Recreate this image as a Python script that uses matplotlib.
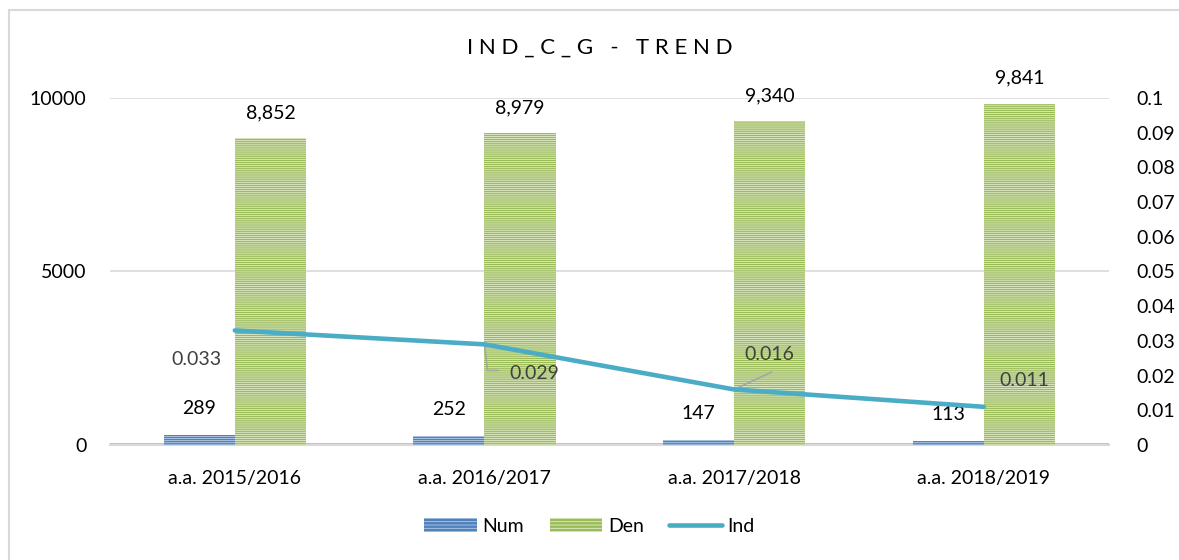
import numpy as np
import matplotlib.pyplot as plt
from matplotlib.patches import Rectangle, Patch
from matplotlib.lines import Line2D

plt.rcParams['font.family'] = ['Lato', 'DejaVu Sans']
plt.rcParams['hatch.linewidth'] = 0.6

categories = ["a.a. 2015/2016", "a.a. 2016/2017", "a.a. 2017/2018", "a.a. 2018/2019"]
num = [289, 252, 147, 113]
den = [8852, 8979, 9340, 9841]
ind = [0.033, 0.029, 0.016, 0.011]

blue = '#4f81bd'
green = '#9bbb59'
teal = '#4bacc6'
grid = '#d9d9d9'
fs = 14

fig = plt.figure(figsize=(11.79, 5.6), dpi=100)
ax = fig.add_axes([0.0933, 0.2054, 0.847, 0.6196])
ax2 = ax.twinx()

x = np.arange(len(categories)) + 0.5
w = 0.285

ax.bar(x - w / 2, num, width=w, color=blue, edgecolor='#b9cde6', linewidth=0,
       hatch='--------', zorder=3)
ax.bar(x + w / 2, den, width=w, color=green, edgecolor='#e3edcf', linewidth=0,
       hatch='--------', zorder=3)

for xi, v in zip(x, num):
    ax.annotate(str(v), (xi - w / 2, v), xytext=(0, 13), textcoords='offset points',
                ha='center', va='bottom', fontsize=fs, color='#000000')
for xi, v in zip(x, den):
    ax.annotate(f"{v:,}", (xi + w / 2, v), xytext=(0, 12), textcoords='offset points',
                ha='center', va='bottom', fontsize=fs, color='#000000')

ax2.plot(x, ind, color=teal, lw=3.3, solid_capstyle='round', solid_joinstyle='round', zorder=4)

# Ind value labels, two with leader lines
lbl = dict(fontsize=fs, color='#404040', ha='center', va='center')
ax2.annotate(f"{ind[0]:.3f}", (x[0], ind[0]), xytext=(-28, -21), textcoords='offset points', **lbl)
ax2.annotate(f"{ind[1]:.3f}", (x[1], ind[1]), xytext=(36, -21), textcoords='offset points', **lbl)
ax2.plot([x[1], x[1] + 0.012, x[1] + 0.055], [ind[1], ind[1] - 0.0075, ind[1] - 0.0075],
         color='#a6a6a6', lw=1.2, zorder=3)
ax2.annotate(f"{ind[2]:.3f}", (x[2], ind[2]), xytext=(25, 25), textcoords='offset points', **lbl)
ax2.plot([x[2], x[2] + 0.15], [ind[2], ind[2] + 0.005], color='#a6a6a6', lw=1.2, zorder=3)
ax2.annotate(f"{ind[3]:.3f}", (x[3], ind[3]), xytext=(29, 19), textcoords='offset points', **lbl)

ax.set_xlim(0, len(categories))
ax.set_ylim(0, 10000)
ax2.set_ylim(0, 0.1)
ax.set_yticks([0, 5000, 10000])
ax.set_yticklabels(['0', '5000', '10000'])
ax2.set_yticks(np.round(np.arange(0, 0.101, 0.01), 2))
ax2.set_yticklabels(['0'] + [f"{t:g}" for t in np.round(np.arange(0.01, 0.101, 0.01), 2)])
ax.set_xticks(x)
ax.set_xticklabels(categories)

for a in (ax, ax2):
    for s in a.spines.values():
        s.set_visible(False)
    a.tick_params(length=0, labelsize=fs, colors='#000000')
ax.tick_params(axis='y', pad=17)
ax.tick_params(axis='x', pad=18)
ax2.tick_params(axis='y', pad=20)

ax.set_axisbelow(True)
ax.yaxis.grid(True, color=grid, lw=1.2)
ax.axhline(0, color='#bfbfbf', lw=3.5, zorder=2)
ax.axhline(0, color='#d9d9d9', lw=1.5, zorder=2, clip_on=False)

fig.text(0.509, 0.914, "I N D _ C _ G   -   T R E N D", ha='center', va='center',
         fontsize=16, color='#000000')

# legend
handles = [Patch(facecolor=blue, edgecolor='#b9cde6', hatch='-----', linewidth=0, label='Num'),
           Patch(facecolor=green, edgecolor='#e3edcf', hatch='-----', linewidth=0, label='Den'),
           Line2D([0], [0], color=teal, lw=3.3, solid_capstyle='round', label='Ind')]
fig.legend(handles=handles, loc='center', bbox_to_anchor=(0.5, 0.06), ncol=3, frameon=False,
           fontsize=fs, handlelength=2.7, handleheight=0.7, handletextpad=0.3, columnspacing=1.3)

# chart border
fig.add_artist(Rectangle((9 / 1179, -0.1), 1.2, 1 - 10 / 560 + 0.1, transform=fig.transFigure,
                         fill=False, edgecolor='#d9d9d9', lw=1.5))

fig.savefig('out.png', dpi=100)
